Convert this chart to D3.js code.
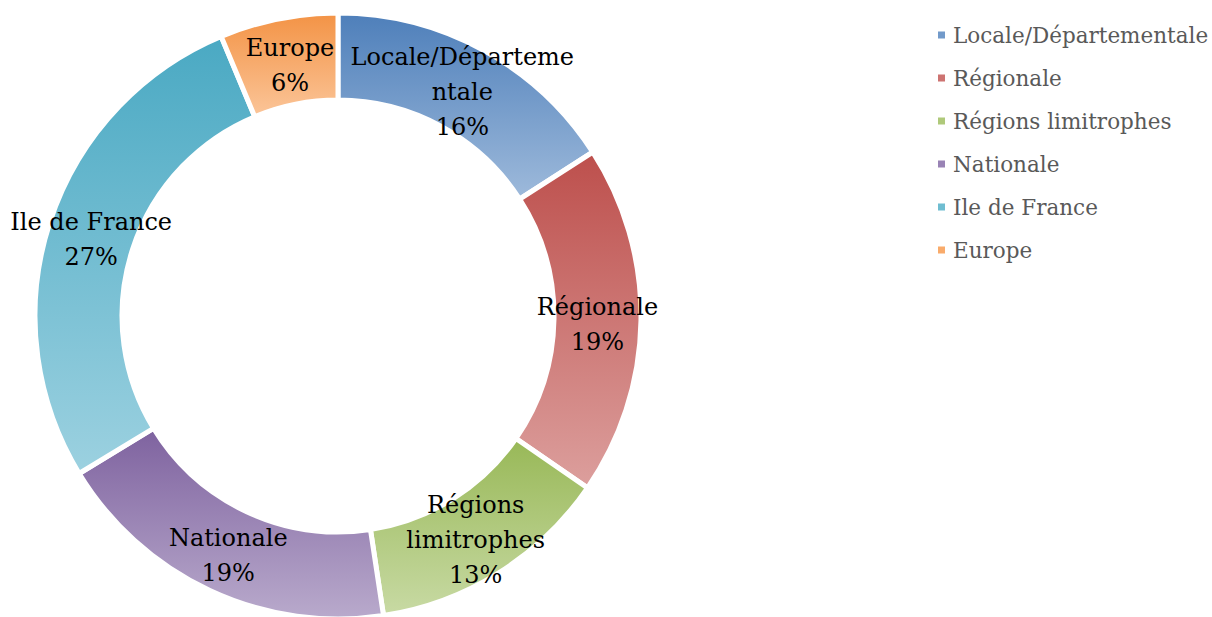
<!DOCTYPE html>
<html>
<head>
<meta charset="utf-8">
<script src="https://cdn.jsdelivr.net/npm/d3@7"></script>
<style>
	body { margin: 0; background: #fff; }
	svg { display: block; }
</style>
</head>
<body>
<div id="chart"></div>
<script>
const categories = ['Locale/Départementale', 'Régionale', 'Régions limitrophes', 'Nationale', 'Ile de France', 'Europe'];
const values = [15.9, 18.7, 13.0, 18.7, 27.4, 6.3];
// label lines as Excel wrapped them
const label_lines = [
	['Locale/Départeme', 'ntale'],
	['Régionale'],
	['Régions', 'limitrophes'],
	['Nationale'],
	['Ile de France'],
	['Europe'],
];
const colours = ['#4f81bd', '#c0504d', '#9bbb59', '#8064a2', '#4bacc6', '#f79646'];

const width = 1212;
const height = 617;
const cx = 338;
const cy = 316;
const outer = 303;
const inner = 216;
const font = '"DejaVu Serif", serif';

const svg = d3.select('#chart').append('svg')
	.attr('width', width)
	.attr('height', height);

const lighten = (c) => d3.interpolateRgb(c, '#ffffff')(0.45);

const defs = svg.append('defs');
colours.forEach((c, i) => {
	const g = defs.append('linearGradient')
		.attr('id', 'grad' + i)
		.attr('x1', 0).attr('y1', 0)
		.attr('x2', 0).attr('y2', 1);
	g.append('stop').attr('offset', '0%').attr('stop-color', d3.color(c).darker(0.05));
	g.append('stop').attr('offset', '100%').attr('stop-color', lighten(c));
});

const pie = d3.pie().sort(null).value(d => d);
const arcs = pie(values);
const arc = d3.arc().innerRadius(inner).outerRadius(outer);
const label_arc = d3.arc().innerRadius((inner + outer) / 2).outerRadius((inner + outer) / 2);

const container = svg.append('g')
	.attr('transform', `translate(${cx},${cy})`);

container.append('g')
	.selectAll('path')
	.data(arcs)
	.enter()
	.append('path')
	.attr('d', arc)
	.style('fill', (d, i) => `url(#grad${i})`)
	.style('stroke', '#fff')
	.style('stroke-width', 5)
	.style('stroke-linejoin', 'miter');

const line_height = 35;
const labels = container.append('g')
	.selectAll('text')
	.data(arcs)
	.enter()
	.append('text')
	.attr('font-family', font)
	.attr('font-size', '24px')
	.attr('fill', '#000')
	.attr('text-anchor', 'middle')
	.each(function(d, i) {
		const [x, y] = label_arc.centroid(d);
		const lines = label_lines[i].concat([Math.round(d.value) + '%']);
		const top = y - (lines.length - 1) * line_height / 2 + 12;
		const t = d3.select(this);
		lines.forEach((l, j) => {
			t.append('tspan')
				.attr('x', x + (i == 5 ? 3 : 0))
				.attr('y', top + j * line_height)
				.text(l);
		});
	});

const legend = svg.append('g')
	.attr('transform', 'translate(938,0)');

const rows = legend.selectAll('g')
	.data(categories)
	.enter()
	.append('g')
	.attr('transform', (d, i) => `translate(0,${35 + i * 43})`);

rows.append('rect')
	.attr('x', 0)
	.attr('y', -3.5)
	.attr('width', 7)
	.attr('height', 7)
	.style('fill', (d, i) => d3.interpolateRgb(colours[i], '#ffffff')(0.2));

rows.append('text')
	.attr('x', 15)
	.attr('y', 0)
	.attr('dy', '0.35em')
	.attr('font-family', font)
	.attr('font-size', '21.5px')
	.attr('fill', '#595959')
	.text(d => d);
</script>
</body>
</html>
